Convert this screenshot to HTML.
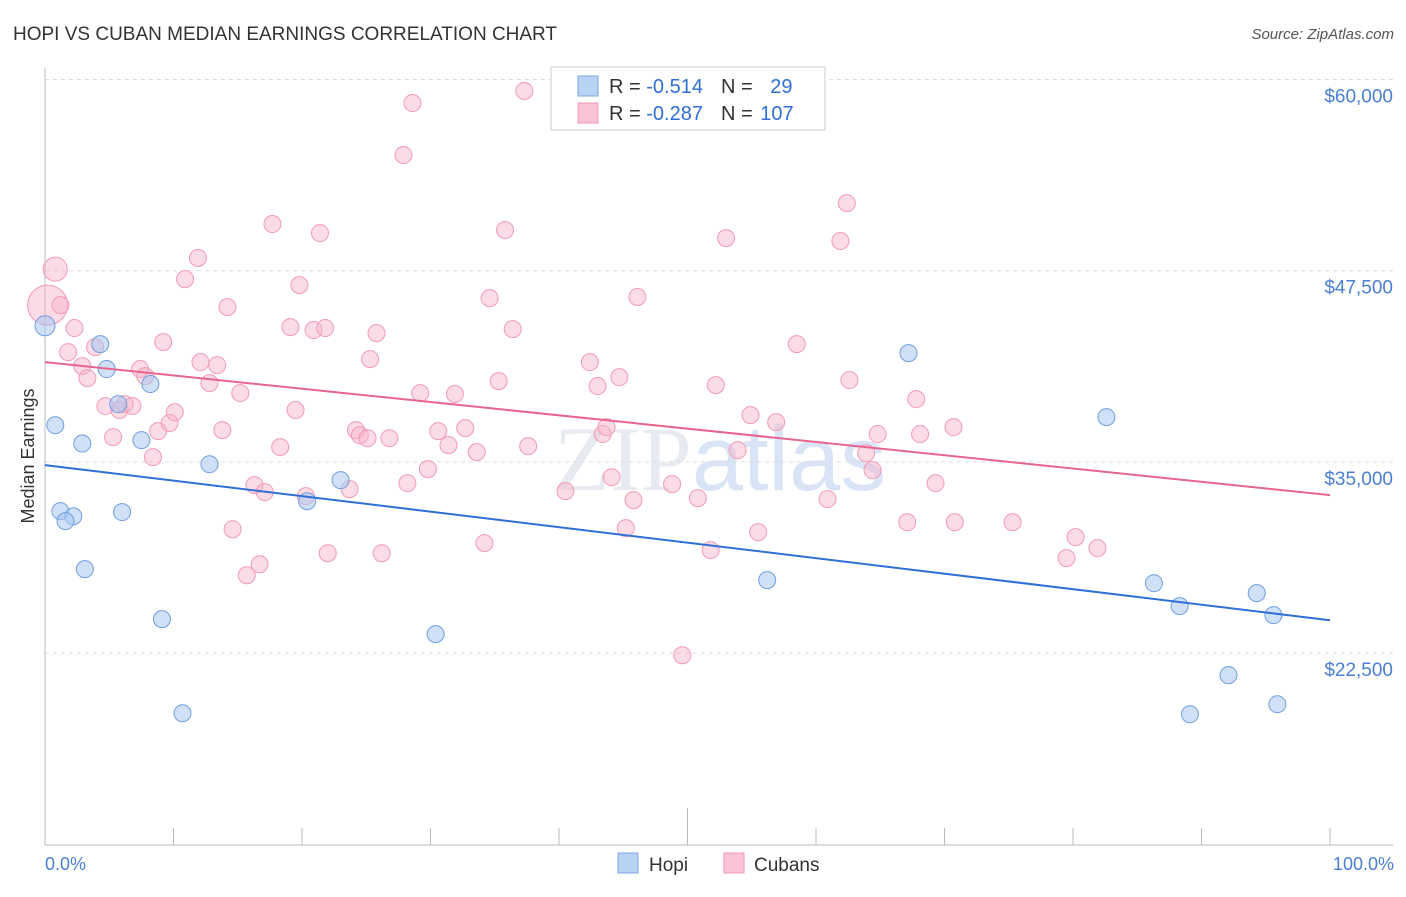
<!DOCTYPE html>
<html><head><meta charset="utf-8"><style>
body{margin:0;background:#fff;width:1406px;height:892px;overflow:hidden;font-family:"Liberation Sans",sans-serif}
</style></head><body>
<svg id="chart" width="1406" height="892" xmlns="http://www.w3.org/2000/svg" font-family="Liberation Sans, sans-serif">
<text x="13" y="40" font-size="19" fill="#333">HOPI VS CUBAN MEDIAN EARNINGS CORRELATION CHART</text>
<text x="1394" y="39" font-size="15" fill="#555" text-anchor="end" font-style="italic">Source: ZipAtlas.com</text>
<text x="720" y="490" font-size="92" text-anchor="middle" fill="#dde3ec" opacity="0.7"><tspan font-family="Liberation Serif, serif">ZIP</tspan><tspan fill="#c9daf3">atlas</tspan></text>
<g id="grid"></g>
<g id="axes"></g>
<g id="points"></g>
<g id="trends"></g>
<text transform="translate(34,456) rotate(-90)" font-size="18" fill="#333" text-anchor="middle">Median Earnings</text>
<text x="45" y="870" font-size="18" fill="#4a7fd4">0.0%</text>
<text x="1394" y="870" font-size="18" fill="#4a7fd4" text-anchor="end">100.0%</text>
<g>
<rect x="551" y="67" width="274" height="63" fill="#fff" stroke="#ccc"/>
<rect x="578" y="76" width="20" height="20" fill="#b8d2f3" stroke="#7aa6e2"/>
<rect x="578" y="103" width="20" height="20" fill="#f9c3d3" stroke="#f09ab4"/>
<text x="609" y="93" font-size="20" fill="#333">R = <tspan fill="#2f6fd6">-0.514</tspan><tspan dx="18">N = </tspan><tspan dx="12" fill="#2f6fd6">29</tspan></text>
<text x="609" y="120" font-size="20" fill="#333">R = <tspan fill="#2f6fd6">-0.287</tspan><tspan dx="18">N = </tspan><tspan dx="2" fill="#2f6fd6">107</tspan></text>
</g>
<g>
<rect x="618" y="853" width="20" height="20" fill="#b8d2f3" stroke="#7aa6e2"/>
<text x="649" y="871" font-size="19" fill="#333">Hopi</text>
<rect x="724" y="853" width="20" height="20" fill="#f9c3d3" stroke="#f09ab4"/>
<text x="754" y="871" font-size="19" fill="#333">Cubans</text>
</g>
</svg>
<script>
const yTicks=[60000,47500,35000,22500];
const yTickLabels=["$60,000","$47,500","$35,000","$22,500"];
const hopiX=[0,0.8,2.9,4.3,4.8,5.7,8.2,7.5,1.2,2.2,1.6,6.0,3.1,9.1,10.7,12.8,20.4,23.0,30.4,56.2,67.2,82.6,86.3,88.3,92.1,89.1,94.3,95.6,95.9];
const hopiY=[43900,37400,36200,42700,41070,38780,40090,36420,31780,31450,31130,31720,27990,24720,18570,34850,32430,33810,23740,27270,42110,37930,27070,25570,21060,18500,26420,24980,19160];
const cubX=[0.2,0.8,1.2,2.3,1.8,2.9,3.3,3.9,4.7,5.3,5.8,6.2,6.8,7.4,7.8,8.4,8.8,9.2,9.7,10.1,10.9,11.9,12.1,12.8,13.4,13.8,14.2,14.6,15.2,15.7,16.3,16.7,17.1,17.7,18.3,19.1,19.5,19.8,20.3,20.9,21.4,21.8,22.0,23.7,24.2,24.5,25.1,25.3,25.8,26.2,26.8,27.9,28.2,28.6,29.2,29.8,30.6,31.4,31.9,32.7,33.6,34.2,34.6,35.3,35.8,36.4,37.3,37.6,40.5,42.4,43.0,43.4,43.7,44.1,44.7,45.2,45.8,46.1,48.8,49.6,50.8,51.8,52.2,53.0,53.9,54.9,55.5,56.9,58.5,60.9,61.9,62.4,62.6,63.9,64.4,64.8,67.1,67.8,68.1,69.3,70.7,70.8,75.3,79.5,80.2,81.9];
const cubY=[45250,47600,45250,43750,42180,41260,40480,42500,38650,36620,38390,38780,38650,41070,40610,35310,37010,42830,37540,38250,46950,48330,41520,40150,41330,37080,45120,30600,39500,27590,33480,28310,33020,50550,35970,43810,38390,46560,32760,43620,49960,43750,29030,33220,37080,36750,36550,41720,43420,29030,36550,55060,33610,58460,39500,34530,37010,36100,39440,37210,35640,29690,45710,40280,50160,43680,59250,36030,33090,41520,39960,36820,37270,34000,40540,30670,32500,45780,33550,22360,32630,29230,40020,49630,35770,38060,30410,37600,42700,32570,49440,51920,40350,35570,34460,36820,31060,39100,36820,33610,37270,31060,31060,28710,30080,29360];
const hopiTrend=[34790,24650];
const cubTrend=[41520,32830];
const NS="http://www.w3.org/2000/svg";
const X0=45,X1=1330;
function sx(p){return X0+(X1-X0)*p/100;}
function sy(v){return 79.5+(60000-v)/12500*191.2;}
function mk(t,a,parent){const e=document.createElementNS(NS,t);for(const k in a)e.setAttribute(k,a[k]);parent.appendChild(e);return e;}
const grid=document.getElementById('grid'),axes=document.getElementById('axes'),pts=document.getElementById('points'),tr=document.getElementById('trends');
yTicks.forEach((v,i)=>{
  const l=mk('line',{x1:45,x2:1393,y1:sy(v),y2:sy(v),stroke:'#ddd','stroke-dasharray':'4,4'},grid);
  
  
  const t=mk('text',{x:1393,y:sy(v)+23,'font-size':19,fill:'#4a7fd4','text-anchor':'end'},grid);
  t.textContent=yTickLabels[i];
  
  
});
const ax=mk('line',{x1:45,x2:45,y1:68,y2:845,stroke:'#bbb'},axes);


const bx=mk('line',{x1:45,x2:1393,y1:845,y2:845,stroke:'#bbb'},axes);


for(let i=0;i<=10;i++){
  const tk=mk('line',{x1:sx(i*10),x2:sx(i*10),y1:i==5?808:828,y2:845,stroke:'#bbb'},axes);
  
  
}
cubX.forEach((x,i)=>{
  const r=i==0?20:(i==1?12:8.5);
  const c=mk('circle',{cx:sx(x),cy:sy(cubY[i]),r:r,fill:'rgba(247,178,200,0.45)',stroke:'#f29ab5','stroke-width':1},pts);
  
  
});
hopiX.forEach((x,i)=>{
  const c=mk('circle',{cx:sx(x),cy:sy(hopiY[i]),r:i==0?10:8.5,fill:'rgba(168,199,240,0.55)',stroke:'#6f9fdf','stroke-width':1},pts);
  
  
});
const l1=mk('line',{x1:sx(0),x2:sx(100),y1:sy(hopiTrend[0]),y2:sy(hopiTrend[1]),stroke:'#2f6fd6','stroke-width':2},tr);


const l2=mk('line',{x1:sx(0),x2:sx(100),y1:sy(cubTrend[0]),y2:sy(cubTrend[1]),stroke:'#e8648f','stroke-width':2},tr);


</script>
</body></html>
